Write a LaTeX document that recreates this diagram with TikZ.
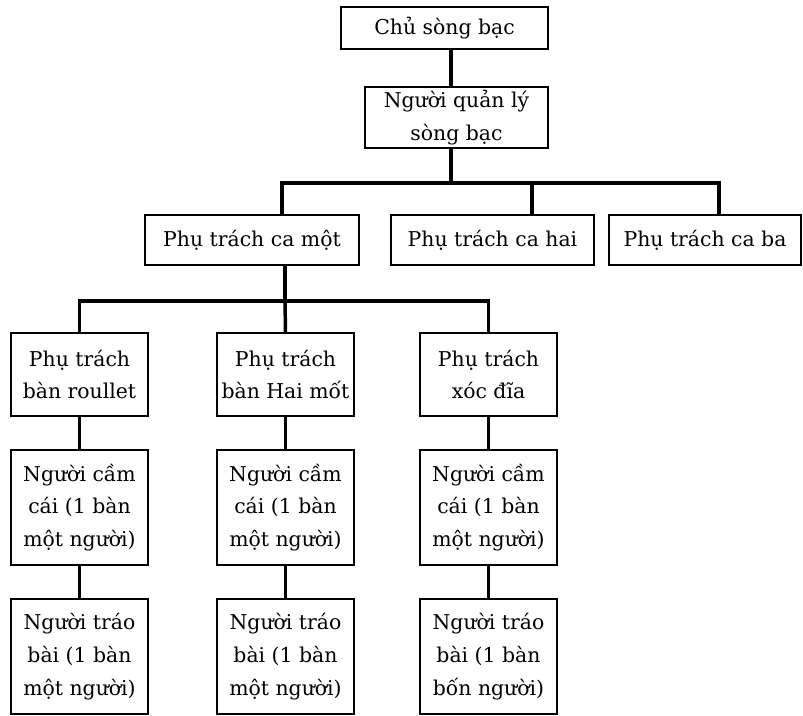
\documentclass[tikz,border=0pt]{standalone}
\usepackage{fontspec}
\setmainfont{DejaVu Serif}
\begin{document}
\begin{tikzpicture}[x=0.75pt,y=-0.75pt,
  box/.style={draw, line width=1.2pt, inner sep=0pt, align=center,
    font=\fontsize{15.3}{24.5}\selectfont},
  conn/.style={line width=2.6pt, line join=miter},
]
\useasboundingbox (0,0) rectangle (803,716);
% level 1-2
\node[box, minimum width=207*0.75pt, minimum height=42*0.75pt] (A) at (444.5,28) {Chủ sòng bạc};
\node[box, minimum width=183*0.75pt, minimum height=61*0.75pt] (B) at (456.5,117.5) {Người quản lý\\sòng bạc};
% level 3
\node[box, minimum width=214*0.75pt, minimum height=50*0.75pt] (C1) at (252,240) {Phụ trách ca một};
\node[box, minimum width=203*0.75pt, minimum height=50*0.75pt] (C2) at (492.5,240) {Phụ trách ca hai};
\node[box, minimum width=192*0.75pt, minimum height=50*0.75pt] (C3) at (705,240) {Phụ trách ca ba};
% level 4
\node[box, minimum width=137*0.75pt, minimum height=83*0.75pt] (D1) at (79.5,374.5) {Phụ trách\\bàn roullet};
\node[box, minimum width=137*0.75pt, minimum height=83*0.75pt] (D2) at (285.5,374.5) {Phụ trách\\bàn Hai mốt};
\node[box, minimum width=137*0.75pt, minimum height=83*0.75pt] (D3) at (488.5,374.5) {Phụ trách\\xóc đĩa};
% level 5
\node[box, minimum width=137*0.75pt, minimum height=115*0.75pt] (E1) at (79.5,507.5) {Người cầm\\cái (1 bàn\\một người)};
\node[box, minimum width=137*0.75pt, minimum height=115*0.75pt] (E2) at (285.5,507.5) {Người cầm\\cái (1 bàn\\một người)};
\node[box, minimum width=137*0.75pt, minimum height=115*0.75pt] (E3) at (488.5,507.5) {Người cầm\\cái (1 bàn\\một người)};
% level 6
\node[box, minimum width=137*0.75pt, minimum height=115*0.75pt] (F1) at (79.5,656.5) {Người tráo\\bài (1 bàn\\một người)};
\node[box, minimum width=137*0.75pt, minimum height=115*0.75pt] (F2) at (285.5,656.5) {Người tráo\\bài (1 bàn\\một người)};
\node[box, minimum width=137*0.75pt, minimum height=115*0.75pt] (F3) at (488.5,656.5) {Người tráo\\bài (1 bàn\\bốn người)};
% junctions
\coordinate (b1) at (451,183);
\coordinate (k1) at (282,183);
\coordinate (k2) at (532,183);
\coordinate (k3) at (719,183);
\coordinate (b2) at (285,301);
% connectors
\draw[conn] (b1 |- A.south) -- (b1 |- B.north);
\draw[conn] (b1 |- B.south) -- (b1);
\draw[conn] (k1 |- C1.north) -- (k1) -- (k3) -- (k3 |- C3.north);
\draw[conn] (k2) -- (k2 |- C2.north);
\draw[conn] (b2 |- C1.south) -- (b2);
\draw[conn] (D1.north) -- (D1.north |- b2) -- (D3.north |- b2) -- (D3.north);
\draw[conn] (b2) -- (D2.north);
\draw[conn] (D1) -- (E1);
\draw[conn] (D2.south) -- (E2.north);
\draw[conn] (D3.south) -- (E3.north);
\draw[conn] (E1.south) -- (F1.north);
\draw[conn] (E2.south) -- (F2.north);
\draw[conn] (E3.south) -- (F3.north);
\end{tikzpicture}
\end{document}
